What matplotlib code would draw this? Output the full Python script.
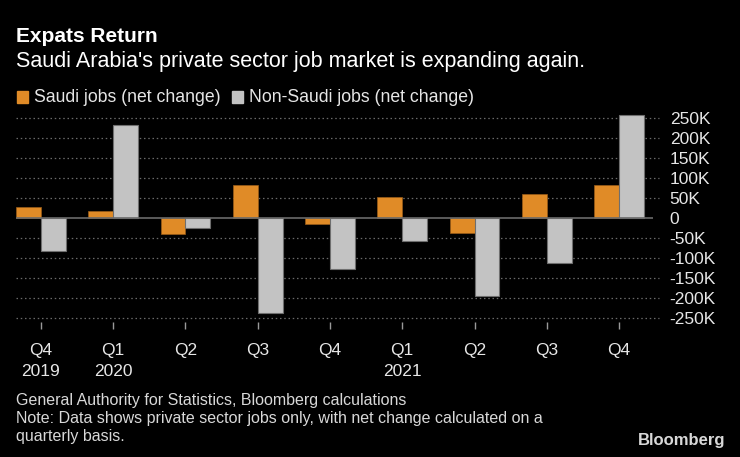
import matplotlib.pyplot as plt
import numpy as np
from matplotlib.patches import Rectangle

# Quarterly net change in private sector jobs (thousands)
quarters = ['Q4\n2019', 'Q1\n2020', 'Q2', 'Q3', 'Q4', 'Q1\n2021', 'Q2', 'Q3', 'Q4']
saudi = [29, 17, -39, 82, -13, 54, -36, 60, 82]
non_saudi = [-82, 234, -25, -236, -127, -56, -193, -111, 257]
yticks = [250, 200, 150, 100, 50, 0, -50, -100, -150, -200, -250]

ORANGE = '#E08B27'
GREY = '#C3C3C3'
W, H = 740, 457

plt.rcParams['font.family'] = ['Liberation Sans', 'DejaVu Sans']

fig = plt.figure(figsize=(W / 100, H / 100), dpi=100, facecolor='black')

# axes placed in pixel coordinates
left, right, top, bottom = 16, 653, 113, 322
ax = fig.add_axes([left / W, 1 - bottom / H, (right - left) / W, (bottom - top) / H])
ax.set_facecolor('black')

x = np.arange(len(quarters))
bw = 0.345
ax.bar(x - bw / 2, saudi, bw, color=ORANGE, edgecolor='#9a5d18', linewidth=0.5, zorder=3)
ax.bar(x + bw / 2, non_saudi, bw, color=GREY, edgecolor='#6e6e6e', linewidth=0.8, zorder=3)

ax.set_xlim(-bw, len(quarters) - 1 + 0.47)
ax.set_ylim(-259, 263)

for v in yticks:
    if v != 0:
        ax.axhline(v, color='#6a6a6a', linestyle=(0, (1.2, 2.2)), linewidth=0.9,
                   zorder=1, xmax=1.01, clip_on=False)
ax.axhline(0, color='#6a6a6a', linewidth=1.2, zorder=4)

for s in ax.spines.values():
    s.set_visible(False)

ax.yaxis.tick_right()
ax.set_yticks(yticks)
ax.set_yticklabels(['0' if v == 0 else f'{v}K' for v in yticks])
ax.tick_params(axis='y', length=0, pad=12, labelsize=12.5, labelcolor='#e6e6e6')

ax.set_xticks(x)
ax.set_xticklabels(quarters, linespacing=1.55)
ax.tick_params(axis='x', length=5, width=1, color='#9a9a9a', pad=10,
               labelsize=12.5, labelcolor='#e6e6e6')

# title block
fig.text(16 / W, 1 - 37 / H, 'Expats Return', color='white', fontsize=15,
         fontweight='bold', va='center', ha='left')
fig.text(16 / W, 1 - 61 / H, "Saudi Arabia's private sector job market is expanding again.",
         color='white', fontsize=15.5, va='center', ha='left')

# legend
for lx, col, label in [(17, ORANGE, 'Saudi jobs (net change)'),
                       (232, GREY, 'Non-Saudi jobs (net change)')]:
    fig.patches.append(Rectangle((lx / W, 1 - 103 / H), 11 / W, 12 / H,
                                 transform=fig.transFigure, color=col))
    fig.text((lx + 17) / W, 1 - 97 / H, label, color='#e6e6e6', fontsize=12.7,
             va='center', ha='left')

# footnotes
notes = ['General Authority for Statistics, Bloomberg calculations',
         'Note: Data shows private sector jobs only, with net change calculated on a',
         'quarterly basis.']
for i, t in enumerate(notes):
    fig.text(16 / W, 1 - (400 + i * 18) / H, t, color='#d8d8d8', fontsize=11.5,
             va='center', ha='left')
fig.text(725 / W, 1 - 441 / H, 'Bloomberg', color='#d8d8d8', fontsize=12,
         fontweight='bold', va='center', ha='right')

fig.savefig('out.png', dpi=100, facecolor='black')
